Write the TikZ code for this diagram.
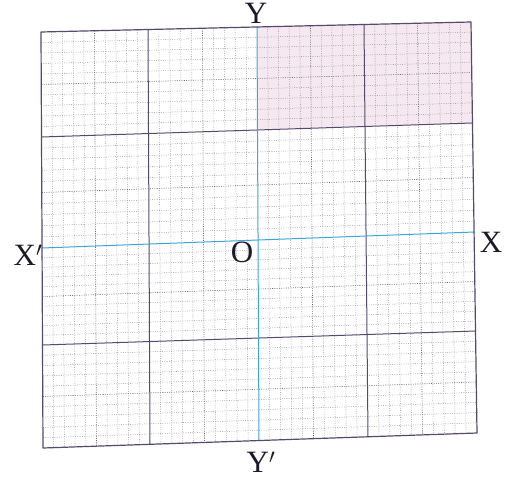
\documentclass[tikz,border=0pt]{standalone}
\usepackage{fontspec}
\setmainfont{Liberation Serif}
\usetikzlibrary{calc}
\definecolor{majorc}{HTML}{564A6C}
\definecolor{axisc}{HTML}{3DA6D6}
\definecolor{minorc}{HTML}{8A8A8A}
\definecolor{pinkc}{HTML}{F6E8F1}
\definecolor{lblc}{HTML}{1C1A28}
\tikzset{
  minorline/.style={draw=minorc, line width=0.5pt, dash pattern=on 0.8pt off 1.5pt},
  midline/.style={draw=minorc!75!black, line width=0.6pt, dash pattern=on 1pt off 1.3pt},
  majorline/.style={draw=majorc, line width=1pt},
  axisline/.style={draw=axisc, line width=1pt},
  borderline/.style={draw=majorc, line width=1.2pt, line join=round},
  lbl/.style={inner sep=0pt, text=lblc, font=\fontsize{31}{31}\selectfont}
}
\begin{document}
\begin{tikzpicture}[x=1pt,y=-1pt]
\useasboundingbox (0,0) rectangle (510,478);
% edge points
\coordinate (T0) at (41,32);
\coordinate (T1) at (148,29.5);
\coordinate (T2) at (257,27);
\coordinate (T3) at (364,24.5);
\coordinate (T4) at (471,22);
\coordinate (B0) at (43,448);
\coordinate (B1) at (150,444.5);
\coordinate (B2) at (259,441);
\coordinate (B3) at (368,437);
\coordinate (B4) at (477,433);
\coordinate (L0) at (41,32);
\coordinate (L1) at (41.5,137);
\coordinate (L2) at (42,248);
\coordinate (L3) at (42.5,345);
\coordinate (L4) at (43,448);
\coordinate (R0) at (471,22);
\coordinate (R1) at (472.5,123);
\coordinate (R2) at (474.5,232);
\coordinate (R3) at (476,331);
\coordinate (R4) at (477,433);
\coordinate (P) at (257.5,129.5);
% pink quadrant
\fill[pinkc] (T2) -- (T4) -- (R1) -- (P) -- cycle;
% minor lines
\foreach \i [evaluate=\i as \n using int(\i+1)] in {0,...,3} {
  \foreach \j in {1,...,9} {
    \ifnum\j=5
      \draw[midline] ($(L\i)!\j/10!(L\n)$) -- ($(R\i)!\j/10!(R\n)$);
      \draw[midline] ($(T\i)!\j/10!(T\n)$) -- ($(B\i)!\j/10!(B\n)$);
    \else
      \draw[minorline] ($(L\i)!\j/10!(L\n)$) -- ($(R\i)!\j/10!(R\n)$);
      \draw[minorline] ($(T\i)!\j/10!(T\n)$) -- ($(B\i)!\j/10!(B\n)$);
    \fi
  }
}
% major lines
\draw[majorline] (L1) -- (R1);
\draw[majorline] (L3) -- (R3);
\draw[majorline] (T1) -- (B1);
\draw[majorline] (T3) -- (B3);
% axes
\draw[axisline] (L2) -- (R2);
\draw[axisline] (T2) -- (B2);
% border
\draw[borderline] (T0) -- (T4) -- (B4) -- (B0) -- cycle;
% labels
\node[lbl] (ylab) at (256,13) {Y};
\node[lbl] (yplab) at (261,462) {Y$'$};
\node[lbl] (xplab) at (28,255) {X$'$};
\node[lbl] (xlab) at (491,242) {X};
\node[lbl] (olab) at (242,252) {O};
\end{tikzpicture}
\end{document}
